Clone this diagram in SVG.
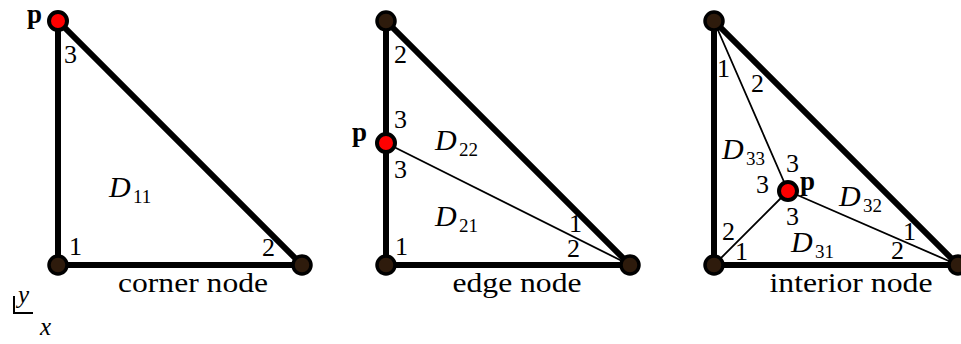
<svg xmlns="http://www.w3.org/2000/svg" width="961" height="344" viewBox="0 0 961 344">
<style>
.thick{stroke:#000;stroke-width:6;stroke-linecap:round;fill:none}
.thin{stroke:#000;stroke-width:1.8;fill:none}
.node{fill:#2e1b0c;stroke:#000;stroke-width:3.5}
.pnode{fill:#ff0000;stroke:#000;stroke-width:4}
text{font-family:'Liberation Serif','Times New Roman',serif;font-size:26px;fill:#000}
.p{font-weight:bold;font-size:27px}
.it{font-style:italic;font-size:30px}
.sub{font-size:19px;font-style:normal}
.cap{font-size:28px}
.ax{font-style:italic;font-size:25px}
</style>
<rect width="961" height="344" fill="#fff"/>
<g id="connectors">
  <path class="thick" d="M58,21 V265 H302 Z"/>
  <path class="thick" d="M386,21 V265 H630 Z"/>
  <path class="thin" d="M386,143 L630,265"/>
  <path class="thick" d="M714,21 V265 H958 Z"/>
  <path class="thin" d="M788,191 L714,21 M788,191 L714,265 M788,191 L958,265"/>
</g>
<g id="corner-triangle">
  <circle id="c1" class="node" cx="58" cy="265" r="9"/>
  <circle id="c2" class="node" cx="302" cy="265" r="9"/>
  <circle id="c3" class="pnode" cx="58" cy="21" r="9"/>
  <text class="p" x="27" y="23">p</text>
  <text x="64" y="63">3</text>
  <text x="69" y="255">1</text>
  <text x="262" y="256">2</text>
  <text x="109" y="197"><tspan class="it">D</tspan><tspan class="sub" x="133" y="203">11</tspan></text>
  <text class="cap" x="193" y="292" text-anchor="middle" textLength="150" lengthAdjust="spacingAndGlyphs">corner node</text>
</g>
<g id="edge-triangle">
  <circle id="e1" class="node" cx="386" cy="21" r="9"/>
  <circle id="e2" class="node" cx="386" cy="265" r="9"/>
  <circle id="e3" class="node" cx="630" cy="265" r="9"/>
  <circle id="ep" class="pnode" cx="386" cy="143" r="9"/>
  <text class="p" x="352" y="141">p</text>
  <text x="394" y="63">2</text>
  <text x="394" y="128">3</text>
  <text x="394" y="178">3</text>
  <text x="395" y="255">1</text>
  <text x="569" y="232">1</text>
  <text x="567" y="257">2</text>
  <text x="435" y="150"><tspan class="it">D</tspan><tspan class="sub" x="459" y="156">22</tspan></text>
  <text x="435" y="226"><tspan class="it">D</tspan><tspan class="sub" x="459" y="232">21</tspan></text>
  <text class="cap" x="517" y="292" text-anchor="middle" textLength="129" lengthAdjust="spacingAndGlyphs">edge node</text>
</g>
<g id="interior-triangle">
  <circle id="i1" class="node" cx="714" cy="21" r="9"/>
  <circle id="i2" class="node" cx="714" cy="265" r="9"/>
  <circle id="i3" class="node" cx="958" cy="265" r="9"/>
  <circle id="ip" class="pnode" cx="788" cy="191" r="9"/>
  <text class="p" x="800" y="190">p</text>
  <text x="717" y="77">1</text>
  <text x="751" y="92">2</text>
  <text x="786" y="172">3</text>
  <text x="756" y="193">3</text>
  <text x="786" y="225">3</text>
  <text x="722" y="240">2</text>
  <text x="735" y="260">1</text>
  <text x="903" y="240">1</text>
  <text x="891" y="259">2</text>
  <text x="722" y="159"><tspan class="it">D</tspan><tspan class="sub" x="746" y="165">33</tspan></text>
  <text x="839" y="206"><tspan class="it">D</tspan><tspan class="sub" x="863" y="212">32</tspan></text>
  <text x="791" y="252"><tspan class="it">D</tspan><tspan class="sub" x="815" y="258">31</tspan></text>
  <text class="cap" x="851" y="292" text-anchor="middle" textLength="163" lengthAdjust="spacingAndGlyphs">interior node</text>
</g>
<g id="axes">
  <path d="M14,296 V313 H33" stroke="#000" stroke-width="2" fill="none"/>
  <text class="ax" x="18" y="303">y</text>
  <text class="ax" x="40" y="335">x</text>
</g>
</svg>
